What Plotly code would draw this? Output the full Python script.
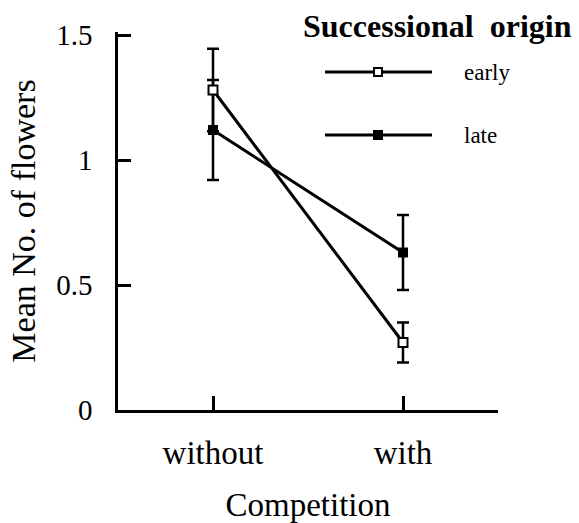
import plotly.graph_objects as go

# Mean number of flowers by competition treatment and successional origin
competition = ["without", "with"]
early_mean = [1.28, 0.27]
early_se = [0.165, 0.08]
late_mean = [1.12, 0.63]
late_se = [0.20, 0.15]

y_ticks = [0, 0.5, 1, 1.5]
y_tick_text = ["0", "0.5", "1", "1.5"]

SERIF = "'Liberation Serif', 'Times New Roman', 'DejaVu Serif', serif"
W, H = 579, 523
L, R, T, B = 118, 81, 32, 113

fig = go.Figure()

fig.add_trace(go.Scatter(
    x=competition, y=late_mean, name="late", mode="lines+markers",
    line=dict(color="black", width=3),
    marker=dict(symbol="square", size=10, color="black"),
    error_y=dict(type="data", array=late_se, color="black", thickness=2.5, width=6),
))
fig.add_trace(go.Scatter(
    x=competition, y=early_mean, name="early", mode="lines+markers",
    line=dict(color="black", width=3),
    marker=dict(symbol="square", size=9, color="white", line=dict(color="black", width=2)),
    error_y=dict(type="data", array=early_se, color="black", thickness=2.5, width=6),
))

# Legend drawn in paper coordinates
pw, ph = W - L - R, H - T - B


def px_x(p):
    return (p - L) / pw


def px_y(p):
    return (H - B - p) / ph


shapes, annotations = [], []
for label, py, fill in [("early", 72, "white"), ("late", 135, "black")]:
    shapes.append(dict(type="line", xref="paper", yref="paper",
                       x0=px_x(325), x1=px_x(432), y0=px_y(py), y1=px_y(py),
                       line=dict(color="black", width=3)))
    shapes.append(dict(type="rect", xref="paper", yref="paper",
                       xsizemode="pixel", ysizemode="pixel",
                       xanchor=px_x(378), yanchor=px_y(py),
                       x0=-4, x1=4, y0=-4, y1=4,
                       fillcolor=fill, line=dict(color="black", width=2)))
    annotations.append(dict(text=label, xref="paper", yref="paper",
                            x=px_x(462), y=px_y(py), xanchor="left", yanchor="middle",
                            showarrow=False, font=dict(family=SERIF, size=23, color="black")))

annotations.append(dict(text="<b>Successional  origin</b>", xref="paper", yref="paper",
                        x=px_x(301), y=px_y(26), xanchor="left", yanchor="middle",
                        showarrow=False, font=dict(family=SERIF, size=32, color="black")))

fig.update_layout(
    width=W, height=H,
    margin=dict(l=L, r=R, t=T, b=B, autoexpand=False),
    paper_bgcolor="white", plot_bgcolor="white",
    showlegend=False,
    shapes=shapes, annotations=annotations,
    font=dict(family=SERIF, color="black"),
)

fig.update_xaxes(
    type="category", range=[-0.5, 1.5], automargin=False,
    showline=True, linecolor="black", linewidth=2.5,
    ticks="inside", ticklen=14, tickwidth=2.5, tickcolor="black",
    tickfont=dict(family=SERIF, size=33, color="black"),
    ticklabelstandoff=12,
    showgrid=False, zeroline=False,
    title=dict(text="Competition", font=dict(family=SERIF, size=33, color="black"), standoff=25),
)
fig.update_yaxes(
    range=[0, 1.512], automargin=False,
    tickvals=y_ticks, ticktext=y_tick_text,
    showline=True, linecolor="black", linewidth=2.5,
    ticks="inside", ticklen=13, tickwidth=2.5, tickcolor="black",
    tickfont=dict(family=SERIF, size=29, color="black"),
    ticklabelstandoff=17,
    showgrid=False, zeroline=False,
    title=dict(text="Mean No. of flowers", font=dict(family=SERIF, size=34, color="black"), standoff=11),
)

fig.write_html("out.html")
